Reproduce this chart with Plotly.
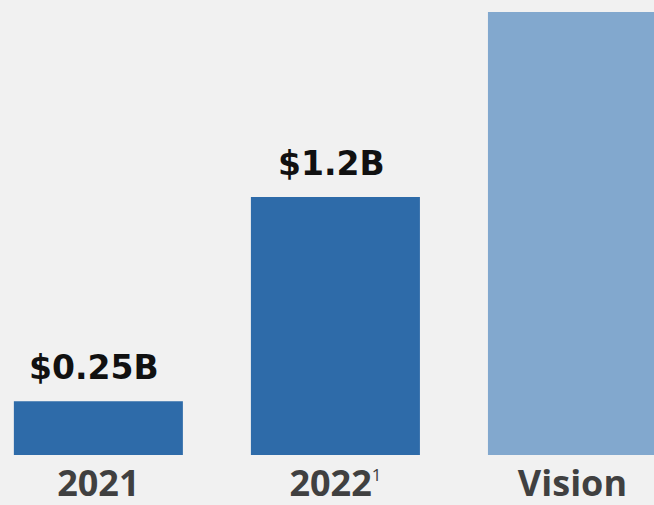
import plotly.graph_objects as go

# Revenue by period (in $B); the vision bar carries no value label
categories = ["2021", "2022", "Vision"]
tick_labels = ["2021", "2022<sup><span style='font-size:17px;font-weight:normal'>1</span></sup>", "Vision"]
values = [0.25, 1.2, 2.06]
labelled = [True, True, False]
bar_colors = ["#2E6BA9", "#2E6BA9", "#82A8CE"]

fig = go.Figure(
    go.Bar(
        x=categories,
        y=values,
        marker=dict(color=bar_colors, line=dict(width=0)),
        width=0.713,
        hoverinfo="skip",
    )
)

# value labels above the bars; x given as category index on the category axis
for idx, (val, show) in enumerate(zip(values, labelled)):
    if not show:
        continue
    fig.add_annotation(
        x=idx,
        y=val,
        xref="x",
        yref="y",
        text=f"&#36;{val:g}B",
        showarrow=False,
        yanchor="bottom",
        yshift=12,
        xshift=-4,
        font=dict(family="DejaVu Sans", size=33, color="#111111", weight="bold"),
    )

fig.update_layout(
    width=654,
    height=505,
    margin=dict(l=0, r=0, t=0, b=50),
    paper_bgcolor="#F1F1F1",
    plot_bgcolor="#F1F1F1",
    showlegend=False,
    xaxis=dict(
        type="category",
        range=[-0.415, 2.344],
        tickmode="array",
        tickvals=categories,
        ticktext=tick_labels,
        tickfont=dict(family="Open Sans", size=36, color="#404040", weight="bold"),
        ticklabelstandoff=4,
        automargin=False,
        showgrid=False,
        zeroline=False,
        showline=False,
        ticks="",
    ),
    yaxis=dict(
        range=[0, 2.116],
        visible=False,
        showgrid=False,
        zeroline=False,
    ),
)

fig.write_html("out.html")
